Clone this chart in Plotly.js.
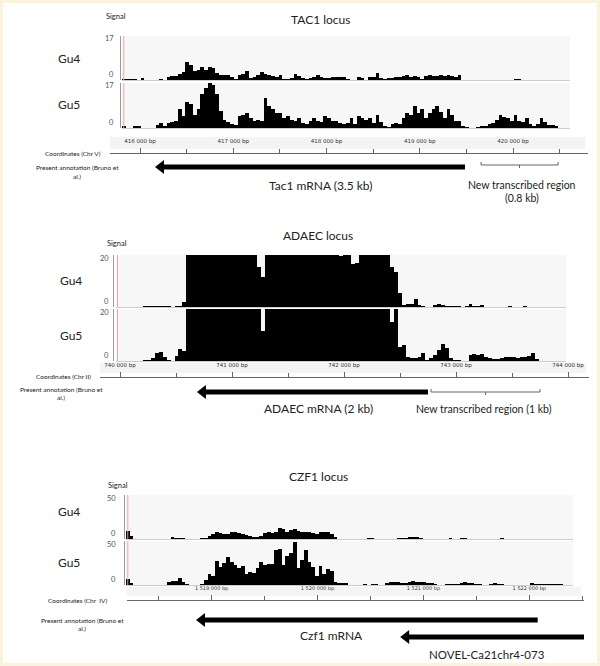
<!DOCTYPE html>
<html><head><meta charset="utf-8">
<script src="https://cdn.plot.ly/plotly-3.0.1.min.js"></script>
<style>html,body{margin:0;padding:0;background:#fff}#chart{width:600px;height:666px}</style>
</head><body><div id="chart"></div>
<script>
// ---------------- DATA ----------------
// TAC1 locus (Chr V), 40 bp bins
const tac1BinStart = 415807, tac1BinSize = 40, tac1Max = 17;
const tac1Gu4 = [0.4,0.3,0.4,0.4,0,0.6,0,0,0,0,
 0.2,0,1.2,1.4,1.6,2.2,3.2,7.0,5.8,3.6,
 3.8,5.1,3.8,4.9,4.6,2.6,1.9,1.9,1.8,1.0,
 0.3,1.9,2.3,3.3,0.8,1.0,1.8,3.1,2.3,1.9,
 1.5,1.3,1.8,0.5,0.3,0.8,2.3,1.5,0.8,0.4,
 0.6,1.0,1.8,1.0,0.8,0.9,1.3,1.3,1.2,1.2,
 0.5,0,0.1,1.0,0.6,0,1.0,1.3,2.8,0.8,
 0.3,0.8,0.8,1.0,1.0,1.5,1.8,1.3,1.5,1.3,
 0.5,1.5,1.8,1.5,1.5,2.0,1.5,2.0,1.5,1.0,
 1.8,0,0,0,0,0,0,0,0,0,0,0,0,0,0,0.3,0.3,0,0,0,0,0,0,0,0,0,0,0,0,0];
const tac1Gu5 = [0.6,0,0,0.8,0.6,0,0,0,0,1.0,
 1.9,0.6,1.9,2.3,2.6,7.0,4.5,10.0,9.2,4.9,
 7.0,12.8,15.0,17.0,16.4,12.8,6.4,3.2,2.3,1.5,
 1.0,4.5,4.9,5.8,3.8,2.8,3.2,2.8,11.5,8.3,
 7.0,5.8,5.8,3.8,4.5,3.2,2.8,3.6,1.9,1.5,
 2.6,3.6,2.8,2.3,4.5,3.8,2.8,2.6,1.9,1.5,
 1.9,3.8,1.5,4.5,3.8,3.2,3.8,1.9,4.9,2.3,
 0.6,0.4,1.5,1.9,1.5,3.8,5.8,4.9,8.3,5.8,
 7.0,3.6,5.8,7.0,8.3,6.1,3.8,7.0,5.1,2.8,
 2.8,0.8,0.3,0,0,0.4,0.6,0.8,1.5,1.8,
 3.2,4.9,4.1,3.6,2.8,4.9,2.8,2.3,3.6,1.5,
 0.6,1.5,3.6,2.3,1.3,1.0,0.6,0,0,0];
const tac1Ticks = [416000,417000,418000,419000,420000];
const tac1TickText = ['416 000 bp','417 000 bp','418 000 bp','419 000 bp','420 000 bp'];
const tac1Mrna = [416161, 419485];
const tac1NewRegion = [419657, 420483];

// ADAEC locus (Chr II), 35 bp bins (signal above 20 is clipped)
const adaecBinStart = 739962, adaecBinSize = 35, adaecMax = 20;
const adaecGu4 = [0,0,0,0,0,0,0,0.3,0.3,0.2,
 0.2,0.2,0.2,0.2,0,0.4,0.4,1.9,25,25,
 25,25,25,25,25,25,25,25,25,25,
 25,25,25,25,25,25,15.5,11.6,25,25,
 25,25,25,25,25,25,25,25,25,25,
 25,25,25,25,25,25,25,19.5,25,25,
 16.5,17,25,25,25,25,25,25,25,25,
 15.5,13.5,5.2,0.6,1.0,1.3,3.2,0.6,0.3,0,
 0,0.6,1.0,0.6,0.3,0.3,0.3,0.3,0,0.3,
 1.0,0.4,0.5,0.6,0,0,0,0,0,0,
 0.3,0,0,0,0.4,0,0,0,0,0,0,0,0,0,0];
const adaecGu5 = [0,0,0,0,0,0,0,0.4,0.4,1.0,
 3.2,3.6,1.5,0.3,0,1.9,4.5,3.9,25,25,
 25,25,25,25,25,25,25,25,25,25,
 25,25,25,25,25,25,25,11.4,25,25,
 25,25,25,25,25,25,25,25,25,25,
 25,25,25,25,25,25,25,25,25,25,
 25,25,25,25,25,25,25,25,25,25,
 15,25,5.5,6.0,1.7,1.0,1.0,1.4,3.0,0.4,
 1.0,2.3,4.3,6.6,4.9,1.0,0.4,0.3,0,0,
 2.3,2.7,2.3,2.6,1.4,1.0,0.6,0.8,1.0,1.7,
 1.4,1.4,1.0,1.7,1.4,1.9,3.0,0.6,0,0,0,0,0,0,0];
const adaecTicks = [740000,741000,742000,743000,744000];
const adaecTickText = ['740 000 bp','741 000 bp','742 000 bp','743 000 bp','744 000 bp'];
const adaecMrna = [740687, 742750];
const adaecNewRegion = [742777, 743750];

// CZF1 locus (Chr IV), 35 bp bins
const czf1BinStart = 1518192, czf1BinSize = 35, czf1Max = 50;
const czf1Gu4 = [9,3,0.5,0,0,0,0,0,0,0,
 0,0,1.9,1.5,1.1,0.8,0,0,0,0,
 0.8,1.2,3.5,5.3,7.6,7.0,6.0,5.5,7.6,7.6,
 7.3,6.1,5.0,3.5,2.5,2.5,3.8,6.4,8.3,6.4,
 8.3,12.9,11,7.5,10.5,11,9.1,8.3,8.3,7.6,
 7.0,5.3,8.3,8.5,7.5,5.5,2.5,0.5,0,0,
 0,0,0,0.4,0,0.8,0.8,0.4,0,0,
 0.4,0.4,0,1.0,1.0,1.5,2.7,2.3,2.3,1.5,
 0,0,0,0,0,0,0.5,0.8,0.5,0.3,
 0.8,1.0,0.5,0,0,0,0,0,0.4,0,
 0,1.0,0.5,0,0,0,0,0,0.5,0.5,
 0.5,0,0,0,0,0,0,0,0,0,0];
const czf1Gu5 = [6.4,1.9,0,0,0,0,0,0,0,0,
 0,3.0,4.5,4.5,7.6,3.0,0.8,0.5,0,0,
 1.5,5.7,12.1,10.6,27.3,20.8,25,32.2,25.8,22.7,
 19.7,22,12.1,14.4,13.3,18.9,25.8,22.7,24.2,23.5,
 39.8,40.9,22.7,33.3,36,49.2,18.9,28.4,39.8,26.5,
 20.8,10.6,22,12.1,18.2,15.9,3.8,1.9,1.9,1.9,
 0,0,0,0,0.8,0.4,1.5,1.5,0,0,
 2.7,3.4,3.4,3.4,2.7,2.0,3.0,4.5,3.8,3.4,
 3.0,2.3,2.3,1.5,0,0,1.1,1.1,1.5,1.5,
 2.7,3.5,2.5,1.9,1.5,1.0,0,0,1.0,1.9,
 1.1,1.1,0.5,0,0,0,0,0,0.5,1.9,
 1.1,1.5,1.5,1.5,1.3,1.1,0.8,0.8,0,0,0];
const czf1Ticks = [1519000,1520000,1521000,1522000];
const czf1TickText = ['1 519 000 bp','1 520 000 bp','1 521 000 bp','1 522 000 bp'];
const czf1Mrna = [1518853, 1522079];
const novelGene = [1520781, 1522525];

// ---------------- LAYOUT HELPERS ----------------
const W = 600, H = 666;
const fx = p => p / W, fy = p => 1 - p / H;
const FONT = 'Lato, "Open Sans", sans-serif';

const panels = [
 {title:'TAC1 locus', chr:'Coordinates (Chr V)', gu4:tac1Gu4, gu5:tac1Gu5, start:tac1BinStart, bin:tac1BinSize, ymax:tac1Max,
  ticks:tac1Ticks, tickText:tac1TickText, tickFont:5.5,
  genes:[{r:tac1Mrna, py:167}], region:{r:tac1NewRegion, py:165},
  texts:[['Tac1 mRNA (3.5 kb)',320,185,12],['New transcribed region',522,185,10.5],['(0.8 kb)',522,198,10.5]],
  g:{refBp:416000, refPx:140, pxPerBp:0.09325, trackL:122, trackR:570, axisX:120, gu4:[36,80], gu5:[83,128],
     rulerL:110, rulerR:588, ruler:[137,153], annY:167, title:[320,20], signal:[116,16], labX:69, gu4Y:58, gu5Y:105,
     coord:[73,153], presX:77, presY:[168,176], tickLabX:115}},
 {title:'ADAEC locus', chr:'Coordinates (Chr II)', gu4:adaecGu4, gu5:adaecGu5, start:adaecBinStart, bin:adaecBinSize, ymax:adaecMax,
  ticks:adaecTicks, tickText:adaecTickText, tickFont:5.5,
  genes:[{r:adaecMrna, py:392}], region:{r:adaecNewRegion, py:392},
  texts:[['ADAEC mRNA (2 kb)',318,408,12],['New transcribed region (1 kb)',484,409,10.5]],
  g:{refBp:740000, refPx:120, pxPerBp:0.112, trackL:115.7, trackR:566, axisX:113.3, gu4:[255,307], gu5:[309,361],
     rulerL:100, rulerR:589, ruler:[363,377], annY:392, title:[318,235], signal:[117,243], labX:71, gu4Y:280, gu5Y:335,
     coord:[63,377], presX:61, presY:[389,397], tickLabX:110}},
 {title:'CZF1 locus', chr:'Coordinates (Chr  IV)', gu4:czf1Gu4, gu5:czf1Gu5, start:czf1BinStart, bin:czf1BinSize, ymax:czf1Max,
  ticks:czf1Ticks, tickText:czf1TickText, tickFont:5,
  genes:[{r:czf1Mrna, py:620},{r:novelGene, py:637}], region:null,
  texts:[['Czf1 mRNA',331,635,12],['NOVEL-Ca21chr4-073',487,654,11.5]],
  g:{refBp:1519000, refPx:211.6, pxPerBp:0.1059, trackL:126, trackR:573, axisX:124, gu4:[495,539], gu5:[541,585],
     rulerL:127, rulerR:584, ruler:[587,600], annY:628.5, title:[318,476], signal:[118,485], labX:69, gu4Y:511, gu5Y:562,
     coord:[78,600], presX:82, presY:[620,628], tickLabX:117}}
];

const traces = [], shapes = [], annotations = [];
const layout = {width:W, height:H, margin:{l:0,r:0,t:0,b:0}, showlegend:false,
  paper_bgcolor:'#ffffff', plot_bgcolor:'rgba(0,0,0,0)', font:{family:FONT, color:'#222'}, bargap:0};

function txt(t, px, py, size, extra) {
  annotations.push(Object.assign({text:t, x:fx(px), y:fy(py), xref:'paper', yref:'paper', showarrow:false,
    xanchor:'center', yanchor:'middle', borderpad:0, font:{family:FONT, size:size, color:'#222'}}, extra || {}));
}
const axKey = id => id.replace('x','xaxis').replace('y','yaxis');

panels.forEach((p, k) => {
  const g = p.g;
  const xT = (k*2+1) === 1 ? 'x' : 'x' + (k*2+1);
  const xR = 'x' + (k*2+2);
  const yId = [1,2,3].map(j => { const n = k*3 + j; return n === 1 ? 'y' : 'y' + n; });
  const bp = px => g.refBp + (px - g.refPx) / g.pxPerBp;

  layout[axKey(xT)] = {domain:[fx(g.trackL), fx(g.trackR)], range:[bp(g.trackL), bp(g.trackR)],
    visible:false, anchor:yId[1], fixedrange:true};
  // ruler axis: free-positioned at the ruler line
  layout[axKey(xR)] = {domain:[fx(g.rulerL), fx(g.rulerR)], range:[bp(g.rulerL), bp(g.rulerR)],
    anchor:'free', position:fy(g.ruler[1]),
    showline:true, linecolor:'#666', linewidth:1, ticks:'inside', ticklen:5, tickcolor:'#666', tickwidth:1,
    tickmode:'array', tickvals:p.ticks, ticktext:p.tickText, ticklabelposition:'inside', ticklabelstandoff:2,
    tickfont:{family:'DejaVu Sans', size:p.tickFont, color:'#333'}, showgrid:false, zeroline:false, fixedrange:true,
    minor:{tickmode:'linear', tick0:p.ticks[0], dtick:500, ticks:'inside', ticklen:4, tickcolor:'#666', showgrid:false}};

  [[g.gu4, p.gu4, 'Gu4', g.gu4Y], [g.gu5, p.gu5, 'Gu5', g.gu5Y]].forEach((tr, j) => {
    const dom = tr[0];
    layout[axKey(yId[j])] = {domain:[fy(dom[1]), fy(dom[0])], range:[0, p.ymax], anchor:'free', position:fx(g.axisX),
      showline:true, linecolor:'#9a9a9a', linewidth:1, showticklabels:false, ticks:'', showgrid:false,
      zeroline:true, zerolinecolor:'#cccccc', zerolinewidth:1, fixedrange:true};
    const xs = tr[1].map((v, i) => p.start + p.bin * (i + 0.5));
    traces.push({type:'bar', x:xs, y:tr[1], width:p.bin, xaxis:xT, yaxis:yId[j],
      marker:{color:'#000', line:{width:0}}, hoverinfo:'skip'});
    shapes.push({type:'rect', xref:xT+' domain', yref:yId[j]+' domain', x0:0, x1:1, y0:0, y1:1,
      fillcolor:'#f7f7f7', line:{width:0}, layer:'below'});
    shapes.push({type:'line', xref:xT+' domain', yref:yId[j]+' domain', x0:0.004, x1:0.004, y0:0, y1:1,
      line:{color:'#f3a3a3', width:1}});
    txt(tr[2], g.labX, tr[3], 12);
    const lf = {family:FONT, size:7.5, color:'#555'};
    txt(String(p.ymax), g.tickLabX, dom[0] + 3, 7.5, {xanchor:'right', font:lf});
    txt('0', g.tickLabX, dom[1] - 5.5, 7.5, {xanchor:'right', font:lf});
  });

  // ruler band background
  shapes.push({type:'rect', xref:'paper', yref:'paper', x0:fx(g.rulerL), x1:fx(g.rulerR - 3), y0:fy(g.ruler[1] - 4), y1:fy(g.ruler[0]),
    fillcolor:'#f4f4f4', line:{width:0}, layer:'below'});
  // annotation row: genes drawn on the ruler's x scale
  layout[axKey(yId[2])] = {domain:[fy(g.annY+20), fy(g.annY-20)], range:[-20,20], visible:false, anchor:xR, fixedrange:true};

  const headOffset = 6 / g.pxPerBp; // arrowhead marker shifted so its tip sits at the gene end
  p.genes.forEach(ge => {
    const yv = g.annY - ge.py;
    traces.push({type:'scatter', mode:'lines', x:[ge.r[0] + headOffset, ge.r[1]], y:[yv, yv], xaxis:xR, yaxis:yId[2],
      line:{color:'#000', width:5}, hoverinfo:'skip'});
    traces.push({type:'scatter', mode:'markers', x:[ge.r[0] + headOffset], y:[yv], xaxis:xR, yaxis:yId[2],
      marker:{symbol:'triangle-left', size:12, color:'#000', line:{width:0}}, hoverinfo:'skip'});
  });
  if (p.region) {
    const yv = g.annY - p.region.py, s = p.region.r[0], e = p.region.r[1], m = (s + e) / 2;
    traces.push({type:'scatter', mode:'lines', x:[s, s, e, e, null, m, m], y:[yv+3, yv, yv, yv+3, null, yv, yv-3],
      xaxis:xR, yaxis:yId[2], line:{color:'#666', width:1}, hoverinfo:'skip'});
  }

  txt(p.title, g.title[0], g.title[1], 12);
  txt('Signal', g.signal[0], g.signal[1], 7.5);
  txt(p.chr, g.coord[0], g.coord[1], 6.5);
  txt('Present annotation (Bruno et', g.presX, g.presY[0], 6.5);
  txt('al.)', g.presX, g.presY[1], 6.5);
  p.texts.forEach(t => txt(t[0], t[1], t[2], t[3]));
});

shapes.push({type:'rect', xref:'paper', yref:'paper', x0:0, x1:1, y0:0, y1:1, line:{color:'#fbf3dc', width:6}, layer:'above'});
layout.shapes = shapes;
layout.annotations = annotations;

Plotly.newPlot('chart', traces, layout, {staticPlot:true, displayModeBar:false});
</script>
</body></html>
